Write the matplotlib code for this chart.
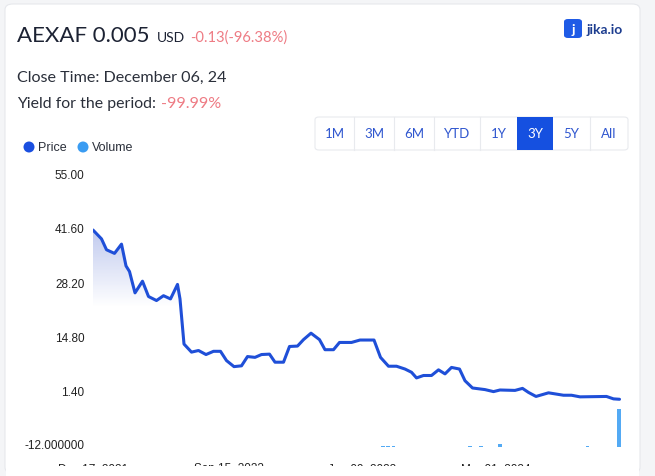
import matplotlib
matplotlib.use("Agg")
import matplotlib.pyplot as plt
import matplotlib.dates as mdates
from matplotlib.patches import FancyBboxPatch, Rectangle, Ellipse
import numpy as np
import pandas as pd

# ---- data ----
price_dates = ["2021-12-17", "2022-01-03", "2022-01-13", "2022-01-29", "2022-02-12",
               "2022-02-21", "2022-02-28", "2022-03-11", "2022-03-26", "2022-04-07",
               "2022-04-23", "2022-05-07", "2022-05-21", "2022-06-04", "2022-06-09",
               "2022-06-17", "2022-07-02", "2022-07-16", "2022-07-31", "2022-08-15",
               "2022-08-29", "2022-09-10", "2022-09-25", "2022-10-10", "2022-10-22",
               "2022-11-06", "2022-11-19", "2022-12-05", "2022-12-16", "2023-01-02",
               "2023-01-14", "2023-01-30", "2023-02-11", "2023-02-26", "2023-03-15",
               "2023-03-26", "2023-04-12", "2023-04-24", "2023-05-18", "2023-06-04",
               "2023-07-02", "2023-07-15", "2023-07-31", "2023-08-16", "2023-09-02",
               "2023-09-15", "2023-09-25", "2023-10-09", "2023-10-25", "2023-11-08",
               "2023-11-21", "2023-12-04", "2023-12-20", "2023-12-31", "2024-01-15",
               "2024-02-09", "2024-02-26", "2024-03-10", "2024-04-09", "2024-04-24",
               "2024-05-06", "2024-05-21", "2024-06-15", "2024-07-15", "2024-07-31",
               "2024-08-17", "2024-10-09", "2024-10-23", "2024-11-04"]
price_values = [41.1, 38.9, 36.2, 35.3, 37.6,
                32.2, 30.8, 25.5, 28.4, 24.6,
                23.6, 24.8, 24.0, 27.6, 24.0,
                12.8, 10.8, 11.2, 10.2, 11.0,
                11.0, 8.7, 7.2, 7.4, 9.7,
                9.5, 10.2, 10.3, 8.3, 8.3,
                12.2, 12.3, 13.9, 15.5, 13.9,
                11.4, 11.4, 13.2, 13.2, 13.8,
                13.8, 9.5, 7.3, 7.3, 6.6,
                5.8, 4.4, 5.0, 5.0, 6.4,
                5.4, 7.0, 6.6, 3.7, 1.9,
                1.5, 1.0, 1.4, 1.3, 1.8,
                0.8, -0.2, 0.7, 0.1, 0.1,
                -0.3, -0.2, -0.8, -0.9]

volume_dates = ["2022-01-20", "2022-03-15", "2022-06-05", "2022-07-20", "2022-09-28",
                "2022-10-15", "2022-11-10", "2023-01-25", "2023-03-10", "2023-07-20",
                "2023-07-30", "2023-08-10", "2023-10-20", "2023-11-25", "2023-12-20",
                "2024-01-10", "2024-02-01", "2024-03-10", "2024-04-01", "2024-05-01",
                "2024-06-15", "2024-07-31", "2024-09-01", "2024-10-01", "2024-11-03"]
volume_values = [20000, 20000, 40000, 30000, 30000,
                 40000, 30000, 30000, 20000, 120000,
                 100000, 80000, 30000, 40000,
                 50000, 120000, 100000, 350000, 40000,
                 40000, 50000, 50000, 150000, 40000,
                 3800000]

y_ticks = [55.0, 41.6, 28.2, 14.8, 1.4, -12.0]
y_tick_labels = ["55.00", "41.60", "28.20", "14.80", "1.40", "-12.000000"]
x_ticks = ["2021-12-17", "2022-09-15", "2023-06-09", "2024-03-01"]
x_tick_labels = ["Dec 17, 2021", "Sep 15, 2022", "Jun 09, 2023", "Mar 01, 2024"]
periods = ["1M", "3M", "6M", "YTD", "1Y", "3Y", "5Y", "All"]
active_period = "3Y"

W, H = 655, 477
fig = plt.figure(figsize=(W / 100, H / 100), dpi=100)
fig.patch.set_facecolor("#f4f5f7")

def fx(px):
    return px / W

def fy(py):
    return 1 - py / H

ui_font = "Lato"
num_font = "Liberation Sans"
dark = "#1c2233"
red = "#ee7b84"
blue = "#1f4fd8"

# card
card = FancyBboxPatch((fx(5), fy(474)), fx(635), 469 / H,
                      boxstyle="round,pad=0,rounding_size=0.012",
                      transform=fig.transFigure, facecolor="white",
                      edgecolor="#e6e8ec", linewidth=0.8, zorder=-5)
fig.patches.append(card)

# header
fig.text(fx(17), fy(36), "AEXAF 0.005", fontsize=16, color=dark,
         fontfamily=ui_font, va="center", ha="left")
fig.text(fx(157), fy(38), "USD", fontsize=10, color=dark,
         fontfamily=ui_font, va="center", ha="left")
fig.text(fx(190), fy(38), "-0.13(-96.38%)", fontsize=10.6, color=red,
         fontfamily=ui_font, va="center", ha="left")
fig.text(fx(17), fy(78), "Close Time: December 06, 24", fontsize=11.6, color="#2a2f3a",
         fontfamily=ui_font, va="center", ha="left")
fig.text(fx(17), fy(104), "Yield for the period:", fontsize=11.4, color="#2a2f3a",
         fontfamily=ui_font, va="center", ha="left")
fig.text(fx(161), fy(104), "-99.99%", fontsize=11.6, color=red,
         fontfamily=ui_font, va="center", ha="left")

# logo
logo = FancyBboxPatch((fx(564), fy(39)), fx(18), 19 / H,
                      boxstyle="round,pad=0,rounding_size=0.006",
                      transform=fig.transFigure, facecolor="#1f5be6",
                      edgecolor="none", zorder=2)
fig.patches.append(logo)
fig.text(fx(573), fy(30), "j", fontsize=10, color="white", fontweight="bold",
         fontfamily=ui_font, va="center", ha="center")
fig.text(fx(587), fy(30), "jika.io", fontsize=10, color="#1d3d8f", fontweight="bold",
         fontfamily=ui_font, va="center", ha="left")

# period buttons
edges = [315, 354, 394, 434, 480, 517, 553, 590, 628]
box = FancyBboxPatch((fx(315), fy(151)), fx(313), 33 / H,
                     boxstyle="round,pad=0,rounding_size=0.006",
                     transform=fig.transFigure, facecolor="white",
                     edgecolor="#e8eaee", linewidth=0.8, zorder=1)
fig.patches.append(box)
for i, p in enumerate(periods):
    x0, x1 = edges[i], edges[i + 1]
    if p == active_period:
        fig.patches.append(Rectangle((fx(x0), fy(151)), fx(x1 - x0), 33 / H,
                                     transform=fig.transFigure, facecolor="#1550e0",
                                     edgecolor="none", zorder=2))
        col = "white"
    else:
        col = "#2f56cf"
        if i > 0 and periods[i - 1] != active_period:
            fig.add_artist(plt.Line2D([fx(x0), fx(x0)], [fy(151), fy(118)],
                                      transform=fig.transFigure, color="#e8eaee", lw=0.8))
    fig.text(fx((x0 + x1) / 2), fy(134), p, fontsize=9.5, color=col,
             fontfamily=ui_font, va="center", ha="center", zorder=3)

# legend
fig.patches.append(Ellipse((fx(29), fy(148)), 11 / W, 11 / H, transform=fig.transFigure,
                           facecolor="#1a4fe0", edgecolor="none"))
fig.text(fx(38), fy(148), "Price", fontsize=9, color="#2a2f3a",
         fontfamily=num_font, va="center", ha="left")
fig.patches.append(Ellipse((fx(83), fy(148)), 11 / W, 11 / H, transform=fig.transFigure,
                           facecolor="#3a9cf2", edgecolor="none"))
fig.text(fx(92), fy(148), "Volume", fontsize=9, color="#2a2f3a",
         fontfamily=num_font, va="center", ha="left")

# ---- chart ----
pd_dates = pd.to_datetime(price_dates)
vd = pd.to_datetime(volume_dates)
x_start = pd.Timestamp("2021-12-17")
x_end = x_start + pd.Timedelta(days=1060)

ax = fig.add_axes([fx(93), fy(445), fx(530), 270 / H])
ax.set_facecolor("none")
ax.set_xlim(x_start, x_end)
ax.set_ylim(-12, 55)
for s in ax.spines.values():
    s.set_visible(False)
ax.set_yticks(y_ticks)
ax.set_yticklabels(y_tick_labels, fontsize=8.5, color="#222222", fontfamily=num_font)
ax.tick_params(axis="y", length=0, pad=6)
ax.set_xticks([mdates.date2num(pd.Timestamp(d)) for d in x_ticks])
ax.set_xticklabels(x_tick_labels, fontsize=8.5, color="#222222", fontfamily=num_font)
ax.tick_params(axis="x", length=0, pad=13)

# gradient under the line
poly = ax.fill_between(pd_dates, price_values, -12, facecolor="none", edgecolor="none")
yy = np.linspace(55, -12, 300)
alpha = np.clip((yy - 22) / (41 - 22), 0, 1.2) * 0.32
grad = np.zeros((300, 1, 4))
grad[:, 0, 0] = 0.24
grad[:, 0, 1] = 0.36
grad[:, 0, 2] = 0.80
grad[:, 0, 3] = alpha
img = ax.imshow(grad, aspect="auto", origin="upper",
                extent=[mdates.date2num(x_start), mdates.date2num(x_end), -12, 55],
                zorder=1)
img.set_clip_path(poly.get_paths()[0], transform=ax.transData)

ax.plot(pd_dates, price_values, color=blue, linewidth=2.2, zorder=3,
        solid_joinstyle="round", solid_capstyle="round")

# volume
vax = fig.add_axes([fx(93), fy(448), fx(530), 273 / H])
vax.set_facecolor("none")
vax.set_xlim(x_start, x_end)
vax.set_ylim(0, 27300000)
vax.axis("off")
vax.bar(vd, volume_values, width=7, color="#4aa6f4", alpha=0.95)

# the card cuts the date labels off at the bottom
fig.add_artist(Rectangle((fx(6), 0), fx(633), 10.5 / H, transform=fig.transFigure,
                         facecolor="white", edgecolor="none", zorder=10))

fig.savefig("out.png", dpi=100, facecolor=fig.get_facecolor())
